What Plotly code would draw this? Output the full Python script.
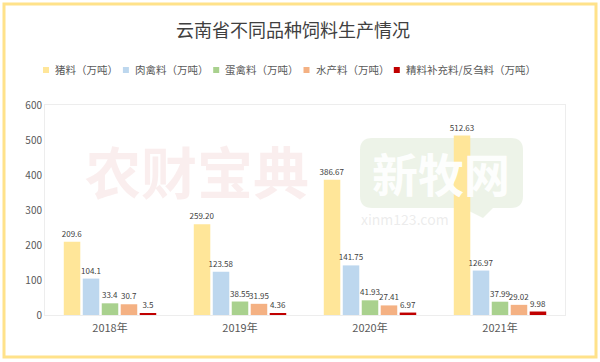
import plotly.graph_objects as go

categories = ["2018年", "2019年", "2020年", "2021年"]
series_names = ["猪料（万吨）", "肉禽料（万吨）", "蛋禽料（万吨）", "水产料（万吨）", "精料补充料/反刍料（万吨）"]
pig = [209.6, 259.20, 386.67, 512.63]
broiler = [104.1, 123.58, 141.75, 126.97]
layer = [33.4, 38.55, 41.93, 37.99]
aqua = [30.7, 31.95, 27.41, 29.02]
rumin = [3.5, 4.36, 6.97, 9.98]
pig_labels = ["209.6", "259.20", "386.67", "512.63"]
broiler_labels = ["104.1", "123.58", "141.75", "126.97"]
layer_labels = ["33.4", "38.55", "41.93", "37.99"]
aqua_labels = ["30.7", "31.95", "27.41", "29.02"]
rumin_labels = ["3.5", "4.36", "6.97", "9.98"]
y_ticks = [0, 100, 200, 300, 400, 500, 600]

colors = ["#FFE699", "#BDD7EE", "#A9D18E", "#F4B183", "#C00000"]
values = [pig, broiler, layer, aqua, rumin]
labels = [pig_labels, broiler_labels, layer_labels, aqua_labels, rumin_labels]

FONT = "Noto Sans CJK SC"
W, H = 600, 362
L, R, T, B = 45, 35, 105, 47
pw, ph = W - L - R, H - T - B


def px_x(px):
    return (px - L) / pw


def px_y(py):
    return (H - B - py) / ph


fig = go.Figure()
for name, vals, lab, col in zip(series_names, values, labels, colors):
    fig.add_trace(go.Bar(
        x=categories, y=vals, name=name, text=lab,
        textposition="outside", cliponaxis=False, constraintext="none",
        textfont=dict(family=FONT, size=8, color="#404040"),
        marker=dict(color=col, line=dict(width=0)),
        showlegend=False,
    ))

shapes = []
annotations = []

# watermarks
annotations.append(dict(text="<b>农财宝典</b>", x=px_x(197), y=px_y(169), xref="paper", yref="paper",
                        xanchor="center", yanchor="middle",
                        showarrow=False, font=dict(family=FONT, size=56, color="rgba(232,170,170,0.2)")))
bx0, bx1, by0, by1 = 360, 523, 138, 208
r = 12
path = (f"M {px_x(bx0 + r)},{px_y(by0)} L {px_x(bx1 - r)},{px_y(by0)} "
        f"Q {px_x(bx1)},{px_y(by0)} {px_x(bx1)},{px_y(by0 + r)} "
        f"L {px_x(bx1)},{px_y(by1 - r)} Q {px_x(bx1)},{px_y(by1)} {px_x(bx1 - r)},{px_y(by1)} "
        f"L {px_x(bx1 - 30)},{px_y(by1)} L {px_x(bx1 - 40)},{px_y(by1 + 10)} L {px_x(bx1 - 60)},{px_y(by1)} "
        f"L {px_x(bx0 + r)},{px_y(by1)} Q {px_x(bx0)},{px_y(by1)} {px_x(bx0)},{px_y(by1 - r)} "
        f"L {px_x(bx0)},{px_y(by0 + r)} Q {px_x(bx0)},{px_y(by0)} {px_x(bx0 + r)},{px_y(by0)} Z")
shapes.append(dict(type="path", xref="paper", yref="paper", path=path,
                   fillcolor="rgba(214,228,204,0.45)", line=dict(width=0), layer="below"))
annotations.append(dict(text="<b>新牧网</b>", x=px_x(441), y=px_y(172), xref="paper", yref="paper",
                        xanchor="center", yanchor="middle",
                        showarrow=False, font=dict(family=FONT, size=46, color="rgba(255,255,255,0.95)")))
annotations.append(dict(text="xinm123.com", x=px_x(405), y=px_y(219), xref="paper", yref="paper",
                        xanchor="center", yanchor="middle",
                        showarrow=False, font=dict(family=FONT, size=14, color="rgba(200,200,200,0.35)")))

# outer border
shapes.append(dict(type="rect", xref="paper", yref="paper",
                   x0=px_x(4), x1=px_x(596), y0=px_y(357), y1=px_y(4),
                   line=dict(color="#FFE28A", width=3), layer="below"))

# custom legend
x = 43
ly = 70
for name, col in zip(series_names, colors):
    shapes.append(dict(type="rect", xref="paper", yref="paper",
                       x0=px_x(x), x1=px_x(x + 6), y0=px_y(ly + 3), y1=px_y(ly - 3),
                       fillcolor=col, line=dict(width=0)))
    annotations.append(dict(text=name, x=px_x(x + 10), y=px_y(ly), xref="paper", yref="paper",
                            xanchor="left", yanchor="middle", showarrow=False,
                            font=dict(family=FONT, size=10.5, color="#595959")))
    x += 10 + len(name) * 10.4 + 7.5

fig.update_layout(
    width=W, height=H,
    margin=dict(l=L, r=R, t=T, b=B),
    paper_bgcolor="white", plot_bgcolor="white",
    title=dict(text="云南省不同品种饲料生产情况", x=293 / W, xanchor="center",
               y=1 - 31 / H, yanchor="middle",
               font=dict(family=FONT, size=18, color="#404040")),
    barmode="group", bargap=0.27, bargroupgap=0.13,
    shapes=shapes, annotations=annotations,
    xaxis=dict(showgrid=False, showline=True, linecolor="#EDEDED", mirror=True,
               ticks="", ticklabelstandoff=3,
               tickfont=dict(family=FONT, size=11, color="#595959")),
    yaxis=dict(range=[0, 600], tickvals=y_ticks, showgrid=False, zeroline=False,
               showline=True, linecolor="#EDEDED", mirror=True, ticks="",
               tickfont=dict(family=FONT, size=10, color="#595959")),
    showlegend=False,
)

fig.write_html("out.html", post_script="document.body.style.margin='0';",
               config={"displayModeBar": False})
